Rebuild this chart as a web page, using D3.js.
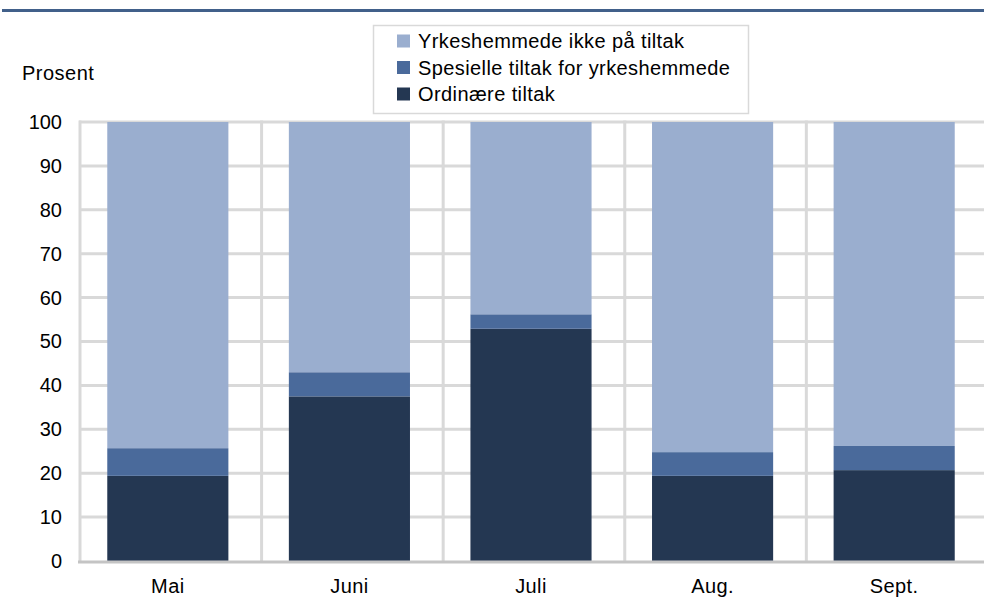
<!DOCTYPE html>
<html>
<head>
<meta charset="utf-8">
<script src="https://cdn.jsdelivr.net/npm/d3@7"></script>
<style>
  body { margin: 0; background: #fff; }
  svg { display: block; font-family: "Liberation Sans", Arial, sans-serif; }
</style>
</head>
<body>
<script>
// data
const months = ["Mai", "Juni", "Juli", "Aug.", "Sept."];
const ordinaere = [19.4, 37.5, 52.9, 19.4, 20.7];
const spesielle = [6.3, 5.5, 3.3, 5.4, 5.5];
const ikkeTiltak = [74.3, 57.0, 43.8, 75.2, 73.8];
const seriesNames = ["Ordinære tiltak", "Spesielle tiltak for yrkeshemmede", "Yrkeshemmede ikke på tiltak"];
const yTicks = [0, 10, 20, 30, 40, 50, 60, 70, 80, 90, 100];

const width = 984;
const height = 614;
const colors = ["#243752", "#4a6a9b", "#9aaecf"];
const fontSize = 20;
const spacing = "0.4px";

const rows = months.map((m, i) => ({
  month: m,
  s0: ordinaere[i],
  s1: spesielle[i],
  s2: ikkeTiltak[i]
}));
const stack = d3.stack().keys(["s0", "s1", "s2"])(rows);

const svg = d3.select("body").append("svg")
  .attr("width", width)
  .attr("height", height);

// x / y scales
const x = d3.scaleBand()
  .domain(months)
  .range([77, 985])
  .paddingInner(0.333)
  .paddingOuter(0.1667);
const y = d3.scaleLinear().domain([0, 100]).range([561, 122]);

// blue rule at the top (title is cut off above it)
svg.append("rect")
  .attr("x", 2).attr("y", 9)
  .attr("width", width).attr("height", 3)
  .attr("fill", "#41608a");

// gridlines
const grid = svg.append("g");
grid.selectAll("line.h")
  .data(yTicks.filter((d) => d > 0))
  .enter().append("line")
  .attr("x1", 79).attr("x2", width)
  .attr("y1", (d) => y(d)).attr("y2", (d) => y(d))
  .attr("stroke", "#d9d9d9").attr("stroke-width", 3);

const step = x.step();
grid.selectAll("line.v")
  .data(d3.range(months.length))
  .enter().append("line")
  .attr("x1", (i) => 80 + i * step).attr("x2", (i) => 80 + i * step)
  .attr("y1", y(100) - 1.5).attr("y2", y(0))
  .attr("stroke", "#d9d9d9").attr("stroke-width", 3);

// stacked bars
svg.append("g").selectAll("g")
  .data(stack)
  .enter().append("g")
  .attr("fill", (d, i) => colors[i])
  .selectAll("rect")
  .data((d) => d)
  .enter().append("rect")
  .attr("x", (d) => x(d.data.month))
  .attr("width", x.bandwidth())
  .attr("y", (d) => y(d[1]))
  .attr("height", (d) => y(d[0]) - y(d[1]));

// baseline
svg.append("line")
  .attr("x1", 78).attr("x2", width)
  .attr("y1", y(0) + 1).attr("y2", y(0) + 1)
  .attr("stroke", "#c4c4c4").attr("stroke-width", 3);

// axes text
const yAxis = d3.axisLeft(y).tickValues(yTicks).tickSize(0).tickPadding(0);
svg.append("g")
  .attr("transform", "translate(62,0)")
  .call(yAxis)
  .call((g) => g.select(".domain").remove())
  .selectAll("text")
  .attr("font-size", fontSize)
  .attr("font-family", "Liberation Sans, Arial, sans-serif")
  .attr("fill", "#000");

const xAxis = d3.axisBottom(x).tickSize(0).tickPadding(0);
svg.append("g")
  .attr("transform", "translate(0,579)")
  .call(xAxis)
  .call((g) => g.select(".domain").remove())
  .selectAll("text")
  .attr("font-size", fontSize)
  .attr("letter-spacing", spacing)
  .attr("font-family", "Liberation Sans, Arial, sans-serif")
  .attr("fill", "#000");

svg.append("text")
  .attr("x", 22).attr("y", 80)
  .attr("font-size", fontSize)
  .attr("letter-spacing", "0.5px")
  .text("Prosent");

// legend
const legend = svg.append("g");
legend.append("rect")
  .attr("x", 373.5).attr("y", 25.5)
  .attr("width", 375).attr("height", 88)
  .attr("fill", "#fff")
  .attr("stroke", "#d9d9d9").attr("stroke-width", 1.5);

const legendItems = [2, 1, 0];
const li = legend.selectAll("g.item")
  .data(legendItems)
  .enter().append("g")
  .attr("transform", (d, i) => `translate(397,${41 + i * 26.5})`);
li.append("rect")
  .attr("x", 0).attr("y", -6.5)
  .attr("width", 13).attr("height", 13)
  .attr("fill", (d) => colors[d]);
li.append("text")
  .attr("x", 21).attr("y", 7)
  .attr("font-size", fontSize)
  .attr("letter-spacing", spacing)
  .text((d) => seriesNames[d]);
</script>
</body>
</html>
